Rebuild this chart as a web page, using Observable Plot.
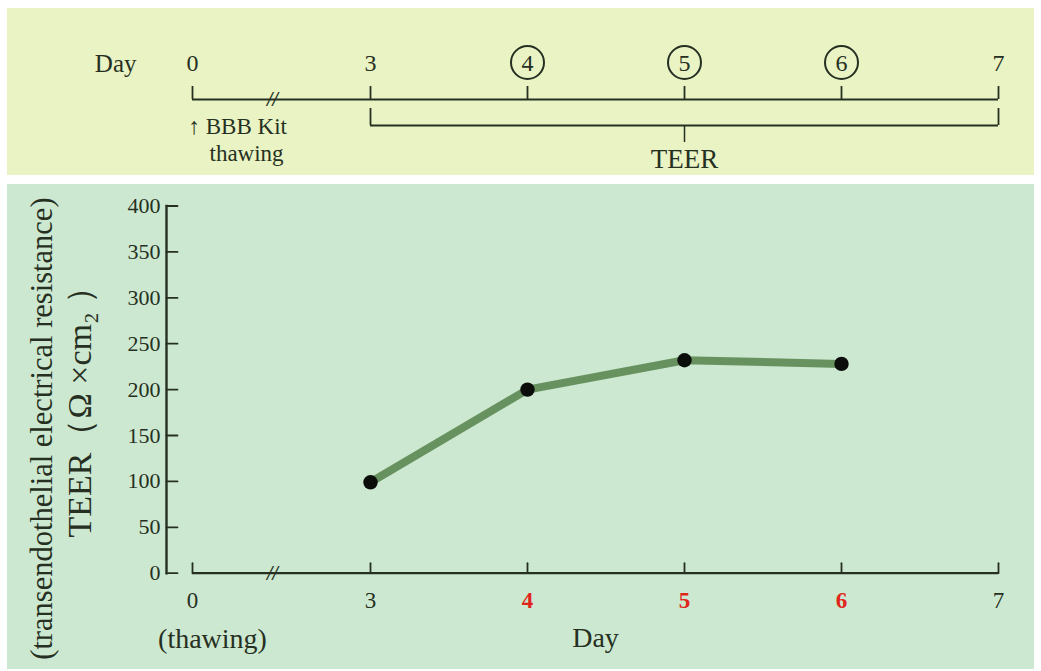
<!DOCTYPE html>
<html><head><meta charset="utf-8">
<script src="https://cdn.jsdelivr.net/npm/d3@7"></script>
<script src="https://cdn.jsdelivr.net/npm/@observablehq/plot@0.6"></script>
<style>
html,body{margin:0;padding:0;background:#fff;width:1041px;height:671px;overflow:hidden;font-family:"Liberation Serif","DejaVu Serif",serif;}
#topPanel{position:absolute;left:7px;top:8px;width:1027px;height:167px;background:#e9f3c4;}
#botPanel{position:absolute;left:7px;top:184px;width:1027px;height:485px;background:#cde8d0;}
.plot{position:absolute;left:0;}
.plot svg{background:transparent;overflow:visible;}
</style></head><body>
<div id="topPanel"></div><div id="botPanel"></div>
<div id="topPlot" class="plot" style="top:0px"></div>
<div id="botPlot" class="plot" style="top:184px"></div>
<script>
// ---- data ----
const days = [3, 4, 5, 6];
const teer = [99, 200, 232, 228];
const xTicks = [0, 3, 4, 5, 6, 7];
const xTickLabels = ["0", "3", "4", "5", "6", "7"];
const highlightDays = [4, 5, 6];
const yTicks = [0, 50, 100, 150, 200, 250, 300, 350, 400];
const timelineDays = [0, 3, 4, 5, 6, 7];
const circledDays = [4, 5, 6];
const teerSpan = [3, 7];
const breakDay = 1.35;

// ---- broken x axis: days 0..3 are compressed ----
const compress = (178 / 157) / 3;               // width of one day before the break, relative to after
const brk = d => d >= 3 ? d : 3 - (3 - d) * compress;
const xScale = {transform: brk, domain: [brk(0), 7], range: [192, 998], axis: null};

const ink = "#263022";
const red = "#e0261a";
const fontFamily = '"Liberation Serif", "DejaVu Serif", serif';
const tickShape = {draw(ctx, l) { ctx.moveTo(0, 0); ctx.lineTo(0, -l); }};

const data = days.map((d, i) => ({day: d, teer: teer[i]}));

// ---- top timeline ----
const ROW_LABEL = 63, ROW_LINE = 99, ROW_TICK = 86, ROW_BR_TOP = 108, ROW_BR = 125, ROW_BR_TICK = 142, ROW_TEER = 159, ROW_KIT = 126, ROW_THAW = 153;
const topPlot = Plot.plot({
  width: 1041, height: 176,
  margin: 0,
  style: {fontFamily, background: "transparent", color: ink},
  x: xScale,
  y: {domain: [0, 176], range: [0, 176], axis: null},
  marks: [
    Plot.ruleY([ROW_LINE], {x1: 0, x2: 7, stroke: ink, strokeWidth: 2.2}),
    Plot.ruleX(timelineDays, {x: d => d, y1: ROW_TICK, y2: ROW_LINE, stroke: ink, strokeWidth: 1.8}),
    Plot.text(["//"], {x: breakDay, y: ROW_LINE, text: d => d, fontSize: 20, fontStyle: "italic", fontWeight: "bold", fill: ink}),
    Plot.text(timelineDays.filter(d => !circledDays.includes(d)), {x: d => d, y: ROW_LABEL, text: d => String(d), fontSize: 24, fill: ink}),
    Plot.dot(circledDays, {x: d => d, y: ROW_LABEL - 1, r: 16.5, stroke: ink, strokeWidth: 2, fill: "none"}),
    Plot.text(circledDays, {x: d => d, y: ROW_LABEL, text: d => String(d), fontSize: 24, fill: ink}),
    Plot.text(["Day"], {x: 0, y: ROW_LABEL, text: d => d, textAnchor: "end", dx: -56, fontSize: 25, fill: ink}),
    Plot.ruleY([ROW_BR], {x1: teerSpan[0], x2: teerSpan[1], stroke: ink, strokeWidth: 2.2}),
    Plot.ruleX(teerSpan, {x: d => d, y1: ROW_BR_TOP, y2: ROW_BR, stroke: ink, strokeWidth: 1.8}),
    Plot.ruleX([(teerSpan[0] + teerSpan[1]) / 2], {x: d => d, y1: ROW_BR, y2: ROW_BR_TICK, stroke: ink, strokeWidth: 1.5}),
    Plot.text(["TEER"], {x: (teerSpan[0] + teerSpan[1]) / 2, y: ROW_TEER, text: d => d, fontSize: 27, fill: ink}),
    Plot.text(["↑ BBB Kit"], {x: 0, y: ROW_KIT, text: d => d, textAnchor: "start", dx: -4, fontSize: 23, fill: ink}),
    Plot.text(["thawing"], {x: 0, y: ROW_THAW, text: d => d, textAnchor: "start", dx: 17, fontSize: 23, fill: ink})
  ]
});
document.getElementById("topPlot").append(topPlot);

// ---- bottom chart ----
const dayLabelX = 3 + ((192 + 998) / 2 - 370) / 157;   // middle of the drawn axis
const botPlot = Plot.plot({
  width: 1041, height: 487,
  marginLeft: 166, marginRight: 43, marginTop: 21.5, marginBottom: 98.3,
  style: {fontFamily, background: "transparent", color: ink},
  x: xScale,
  y: {domain: [0, 400], axis: null},
  marks: [
    Plot.frame({anchor: "left", stroke: ink, strokeWidth: 2.4}),
    Plot.vector(yTicks, {y: d => d, frameAnchor: "left", length: 11, rotate: 90, anchor: "start", shape: tickShape, stroke: ink, strokeWidth: 1.8}),
    Plot.text(yTicks, {y: d => d, text: d => String(d), frameAnchor: "left", textAnchor: "end", dx: -6, fontSize: 22, fill: ink}),
    Plot.text(["(transendothelial electrical resistance)"], {frameAnchor: "left", textAnchor: "middle", rotate: -90, dx: -124, dy: 39, text: d => d, fontSize: 30.5, fill: ink}),
    Plot.text(["TEER（Ω ×cm₂ ）"], {frameAnchor: "left", textAnchor: "middle", rotate: -90, dx: -86, dy: 14, text: d => d, fontSize: 34, fill: ink}),
    Plot.ruleY([0], {x1: 0, x2: 7, stroke: ink, strokeWidth: 2.2}),
    Plot.vector(xTicks, {x: d => d, y: () => 0, length: 10, rotate: 0, anchor: "start", shape: tickShape, stroke: ink, strokeWidth: 1.8}),
    Plot.text(["//"], {x: breakDay, y: 0, text: d => d, fontSize: 20, fontStyle: "italic", fontWeight: "bold", fill: ink}),
    Plot.text(xTicks.filter(d => !highlightDays.includes(d)), {x: d => d, y: 0, text: d => xTickLabels[xTicks.indexOf(d)], dy: 27, fontSize: 23, fill: ink}),
    Plot.text(highlightDays, {x: d => d, y: 0, text: d => xTickLabels[xTicks.indexOf(d)], dy: 27, fontSize: 23, fontWeight: "bold", fill: red}),
    Plot.text(["(thawing)"], {x: 0, y: 0, text: d => d, dx: 20, dy: 66, fontSize: 28, fill: ink}),
    Plot.text(["Day"], {x: dayLabelX, y: 0, text: d => d, dy: 65, fontSize: 28, fill: ink}),
    Plot.line(data, {x: "day", y: "teer", stroke: "#67925f", strokeWidth: 8}),
    Plot.dot(data, {x: "day", y: "teer", r: 7.2, fill: "#0b0d0a"})
  ]
});
document.getElementById("botPlot").append(botPlot);
</script>
</body></html>
